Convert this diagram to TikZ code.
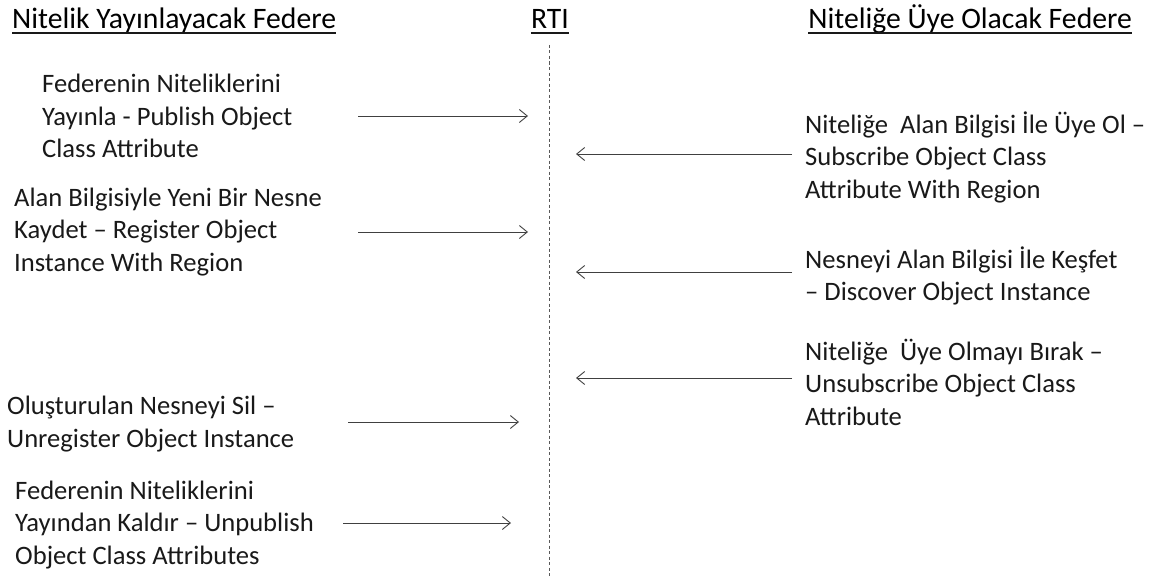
\documentclass[tikz,border=0pt]{standalone}
\usepackage{fontspec}
\setmainfont{Carlito}
\usetikzlibrary{arrows.meta}
\begin{document}
\begin{tikzpicture}[x=1pt,y=-1pt,
  head/.style={inner sep=0pt,font=\fontsize{29.7}{34}\selectfont,text=black},
  headline/.style={draw=black!90,line width=1.6pt},
  label/.style={inner sep=0pt,align=left,anchor=west,
    font=\fontsize{26.6}{32.5}\selectfont,text=black!90},
  msg/.style={draw=black!75,line width=0.9pt,
    -{Straight Barb[length=8pt,width=13pt,line width=0.9pt]}},
  lifeline/.style={draw=black!65,line width=0.9pt,dash pattern=on 3pt off 2.5pt}]
\useasboundingbox (0,0) rectangle (1158,578);

% column headings, underlined
\node[head,anchor=base west] (hleft) at (12,29) {Nitelik Yayınlayacak Federe};
\node[head,anchor=base] (hrti) at (550,29) {RTI};
\node[head,anchor=base east] (hright) at (1132,29) {Niteliğe Üye Olacak Federe};
\draw[headline] ([yshift=-4pt]hleft.base west) -- ([yshift=-4pt]hleft.base east);
\draw[headline] ([yshift=-4pt]hrti.base west) -- ([yshift=-4pt]hrti.base east);
\draw[headline] ([yshift=-4pt]hright.base west) -- ([yshift=-4pt]hright.base east);

% RTI lifeline
\coordinate (ltop) at (549,45);
\coordinate (lbot) at (549,578);
\draw[lifeline] (ltop) -- (lbot);

% publishing federate
\node[label] (l1) at (42,116) {Federenin Niteliklerini\\Yayınla - Publish Object\\Class Attribute};
\node[label] (l2) at (14,232) {Alan Bilgisiyle Yeni Bir Nesne\\Kaydet – Register Object\\Instance With Region};
\node[label] (l3) at (7,424) {Oluşturulan Nesneyi Sil –\\Unregister Object Instance};
\node[label] (l4) at (15,525) {Federenin Niteliklerini\\Yayından Kaldır – Unpublish\\Object Class Attributes};

% subscribing federate
\node[label] (r1) at (805,157) {Niteliğe\ \ Alan Bilgisi İle Üye Ol –\\Subscribe Object Class\\Attribute With Region};
\node[label] (r2) at (805,276) {Nesneyi Alan Bilgisi İle Keşfet\\– Discover Object Instance};
\node[label] (r3) at (805,382) {Niteliğe\ \ Üye Olmayı Bırak –\\Unsubscribe Object Class\\Attribute};

% message arrow end points
\coordinate (a1s) at (358,116); \coordinate (a1e) at (528,116);
\coordinate (a2s) at (358,232); \coordinate (a2e) at (528,232);
\coordinate (a3s) at (348,422); \coordinate (a3e) at (519,422);
\coordinate (a4s) at (343,523); \coordinate (a4e) at (511,523);
\coordinate (b1s) at (792,154); \coordinate (b1e) at (576,154);
\coordinate (b2s) at (792,272); \coordinate (b2e) at (576,272);
\coordinate (b3s) at (792,378); \coordinate (b3e) at (576,378);

\draw[msg] (a1s) -- (a1e);
\draw[msg] (a2s) -- (a2e);
\draw[msg] (a3s) -- (a3e);
\draw[msg] (a4s) -- (a4e);
\draw[msg] (b1s) -- (b1e);
\draw[msg] (b2s) -- (b2e);
\draw[msg] (b3s) -- (b3e);
\end{tikzpicture}
\end{document}
